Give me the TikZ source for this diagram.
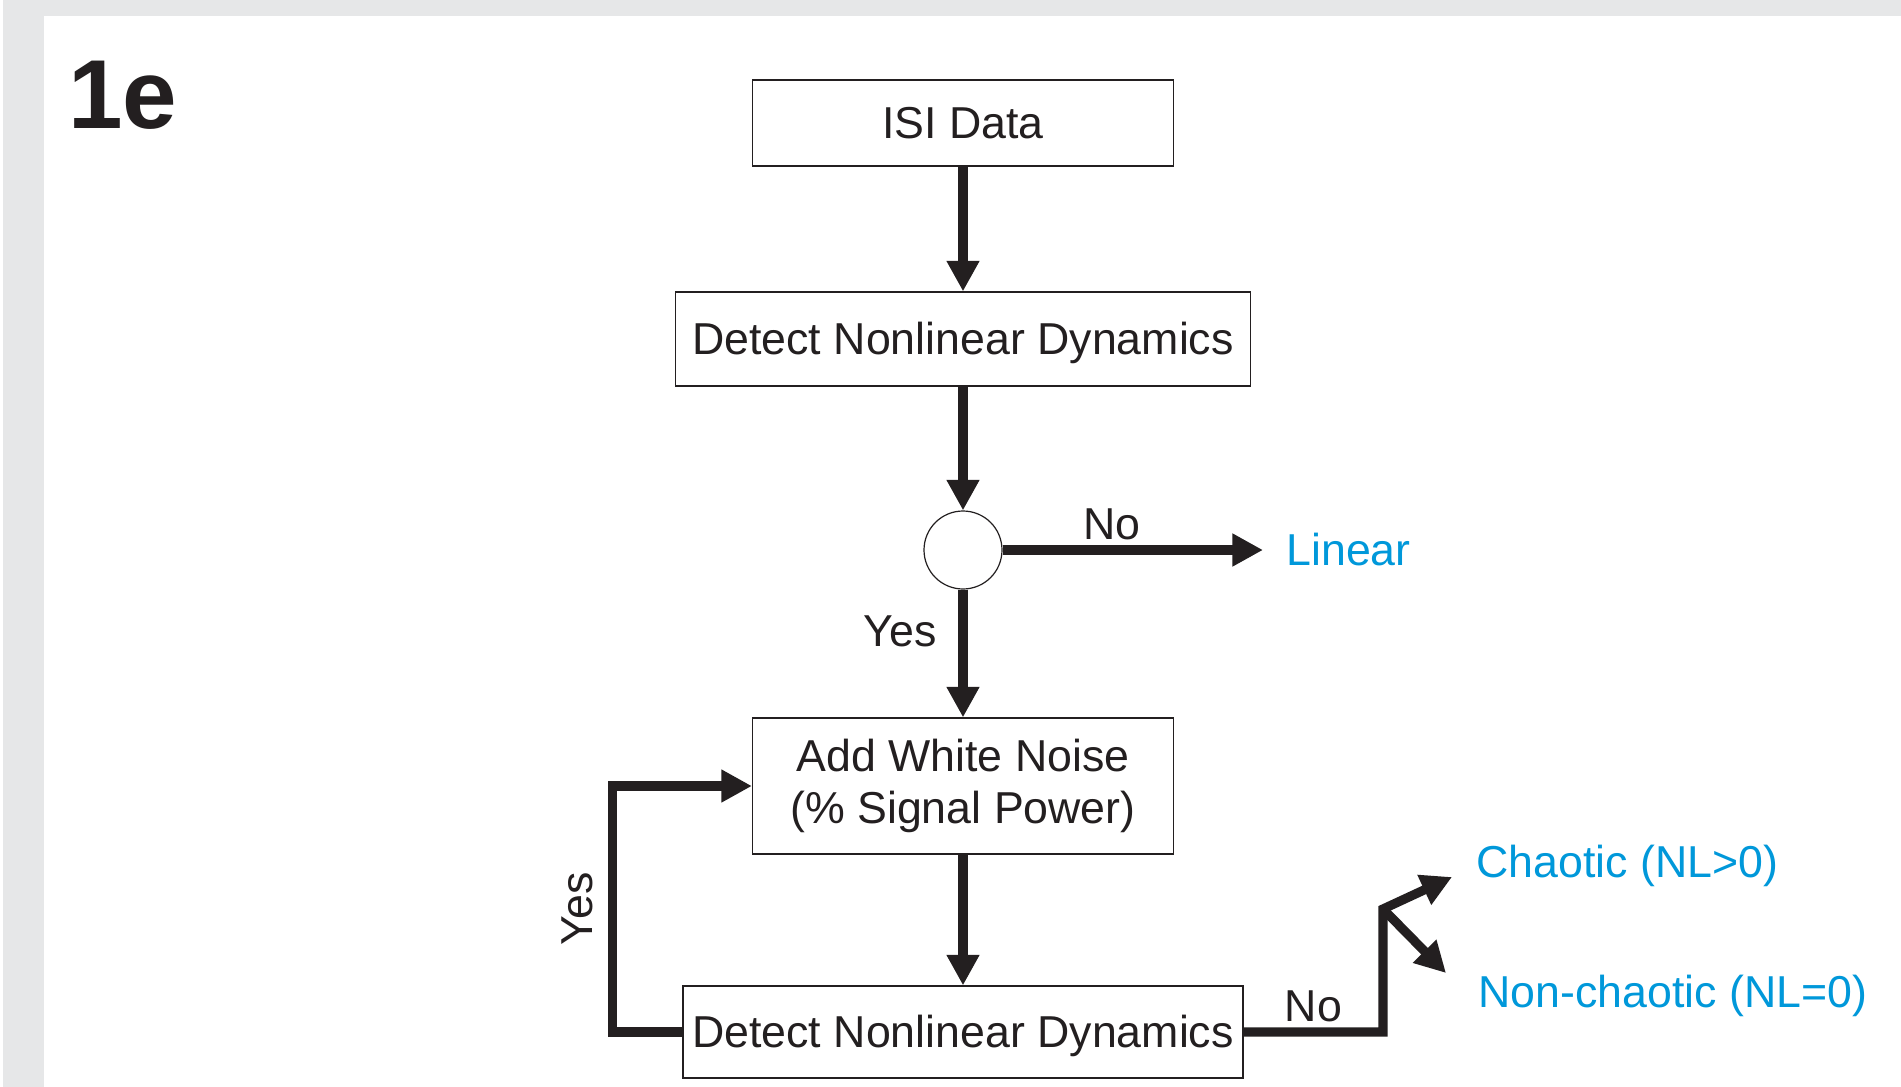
\documentclass[tikz,border=0pt]{standalone}
\usepackage{fontspec}
\setmainfont{Liberation Sans}
\usepackage{tikz}
\usetikzlibrary{arrows.meta, positioning, calc}
\definecolor{inkblack}{RGB}{35, 31, 32}
\definecolor{outblue}{RGB}{0, 152, 218}
\definecolor{framegray}{RGB}{230, 231, 232}

\begin{document}
\begin{tikzpicture}[x=0.5pt, y=-0.5pt,
        stepbox/.style={draw=inkblack, line width=0.6pt, inner sep=0pt, align=center, text=inkblack, font=\fontsize{22.35}{26}\selectfont},
        flow/.style={draw=inkblack, line width=4.6pt, -{Triangle[length=15.3pt, width=15.5pt]}},
        lbl/.style={inner sep=0pt, text=inkblack, font=\fontsize{22.35}{26}\selectfont},
        outcome/.style={inner sep=0pt, anchor=west, text=outblue, font=\fontsize{22.35}{26}\selectfont}]
        \useasboundingbox (0,0) rectangle (1901,1087);
        \fill[framegray] (3,0) rectangle (1901,1087);
        \fill[white] (44,16) rectangle (1901,1087);

        \node[anchor=base west, inner sep=0pt, text=inkblack, font=\fontsize{49}{49}\selectfont\bfseries] (tag) at (68,128) {1e};

        \node[stepbox, minimum width=210.5pt, minimum height=43pt] (isi) at (963,123) {ISI Data};
        \node[stepbox, minimum width=287.5pt, minimum height=47pt, text depth=1.2pt] (detect) at (963,339) {Detect Nonlinear Dynamics};
        \node[draw=inkblack, line width=0.6pt, circle, minimum size=39pt, inner sep=0pt] (check) at (963,550) {};
        \node[stepbox, minimum width=210.5pt, minimum height=68pt] (noise) at (963,786) {Add White Noise\\(\% Signal Power)};
        \node[stepbox, minimum width=280pt, minimum height=46pt, text depth=1.2pt] (redetect) at (963,1032) {Detect Nonlinear Dynamics};

        \node[outcome] (linear) at (1286,550) {Linear};
        \node[outcome] (chaotic) at (1476,866) {Chaotic (NL>0)};
        \node[outcome] (nonchaotic) at (1478,996) {Non-chaotic (NL=0)};

        \coordinate[left=11.5pt of linear.west] (lineartip);
        \coordinate (split) at (1383,909);
        \coordinate (chaotictip) at (1452,877);
        \coordinate (nonchaotictip) at (1446,973);

        \draw[flow] (isi) -- (detect);
        \draw[flow] (detect) -- (check);
        \draw[flow] (check) -- node[lbl, pos=0.42, above=2.5pt] (no1) {No} (lineartip);
        \draw[flow] (check) -- node[lbl, pos=0.33, left=11pt] (yes1) {Yes} (noise);
        \draw[flow] (noise) -- (redetect);
        \draw[flow] (redetect.west) -- ++(-70,0) |- node[lbl, pos=0.25, sloped, above=7.5pt] (yes2) {Yes} (noise.west);
        \draw[flow] (redetect.east) -| node[lbl, pos=0.25, above=2.5pt] (no2) {No} (split) -- (chaotictip);
        \draw[flow] (split) -- (nonchaotictip);
    \end{tikzpicture}
\end{document}
